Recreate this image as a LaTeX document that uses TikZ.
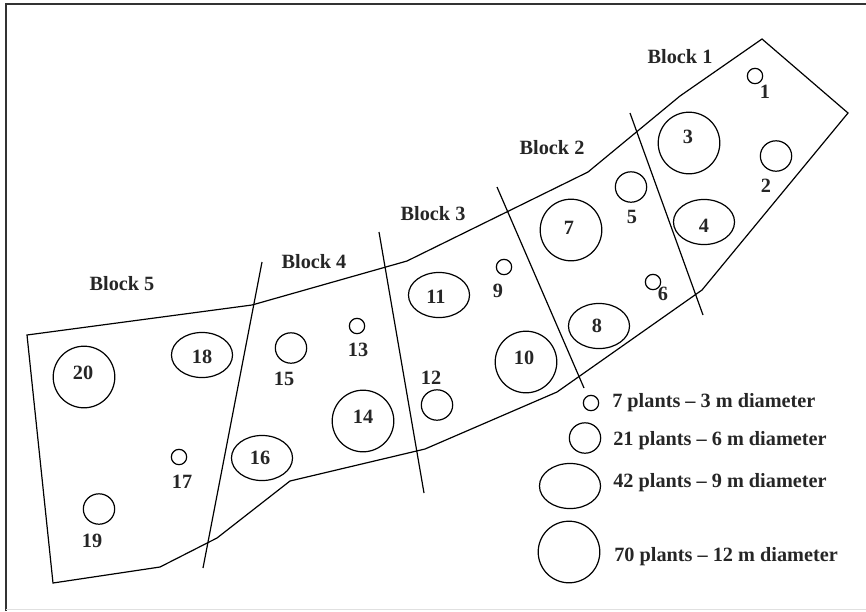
\documentclass[tikz,border=0pt]{standalone}
\usepackage{fontspec}
\setmainfont{Liberation Serif}
\usetikzlibrary{shapes.geometric}
\begin{document}
\begin{tikzpicture}[x=0.75pt, y=-0.75pt,
    every node/.style={font=\fontsize{15.2}{18}\selectfont\bfseries, text=black!85},
    plot/.style={draw, line width=0.9pt, inner sep=0pt, minimum size=0pt},
    smallplot/.style={plot, circle, minimum size=11.5pt},
    medplot/.style={plot, ellipse, minimum width=23.5pt, minimum height=22.8pt},
    ovalplot/.style={plot, ellipse, minimum width=45.8pt, minimum height=33.8pt},
    bigplot/.style={plot, ellipse, minimum width=46.2pt, minimum height=46.2pt},
    numlbl/.style={inner sep=0pt},
    edge/.style={line width=0.9pt, line join=miter}]
    \useasboundingbox (0,0) rectangle (866,611);

    % frame
    \draw[black!80, line width=1.9pt] (6,611) -- (6,4) -- (866,4);
    \draw[black!12, line width=0.6pt] (6,609) -- (866,609);

    % site outline and block dividers
    \draw[edge] (762,39) -- (848,113) -- (702,290) -- (557,392) -- (425,449)
        -- (290,481) -- (217,538) -- (160,567) -- (53,583) -- (27,335)
        -- (252,305) -- (407,261) -- (588,172) -- (680,96) -- cycle;
    \draw[edge] (630,113) -- (703,315);
    \draw[edge] (497,187) -- (584,388);
    \draw[edge] (379,232) -- (424,493);
    \draw[edge] (262,262) -- (203,568);

    % block names
    \node (block1) at (680,57) {Block 1};
    \node (block2) at (552,148) {Block 2};
    \node (block3) at (433,214) {Block 3};
    \node (block4) at (314,262) {Block 4};
    \node (block5) at (122,284) {Block 5};

    % Block 1
    \node[smallplot] (p1) at (755,76) {};
    \node[numlbl] (n1) at (765,92) {1};
    \node[medplot] (p2) at (776,156) {};
    \node[numlbl] (n2) at (766,186) {2};
    \node[bigplot] (p3) at (689,143) {};
    \node[numlbl] (n3) at (688,137) {3};
    \node[ovalplot] (p4) at (704,222) {};
    \node[numlbl] (n4) at (704,226) {4};

    % Block 2
    \node[medplot] (p5) at (631,187) {};
    \node[numlbl] (n5) at (632,217) {5};
    \node[smallplot] (p6) at (653,282) {};
    \node[numlbl] (n6) at (663,294) {6};
    \node[bigplot] (p7) at (571,230) {};
    \node[numlbl] (n7) at (569,228) {7};
    \node[ovalplot] (p8) at (599,326) {};
    \node[numlbl] (n8) at (597,326) {8};

    % Block 3
    \node[smallplot] (p9) at (504,267) {};
    \node[numlbl] (n9) at (498,291) {9};
    \node[bigplot] (p10) at (526,362) {};
    \node[numlbl] (n10) at (524,358) {10};
    \node[ovalplot] (p11) at (439,295) {};
    \node[numlbl] (n11) at (436,297) {11};
    \node[medplot] (p12) at (437,405) {};
    \node[numlbl] (n12) at (431,378) {12};

    % Block 4
    \node[smallplot] (p13) at (357,326) {};
    \node[numlbl] (n13) at (358,350) {13};
    \node[bigplot] (p14) at (363,421) {};
    \node[numlbl] (n14) at (363,417) {14};
    \node[medplot] (p15) at (291,348) {};
    \node[numlbl] (n15) at (284,379) {15};
    \node[ovalplot] (p16) at (262,458) {};
    \node[numlbl] (n16) at (260,458) {16};

    % Block 5
    \node[smallplot] (p17) at (179,457) {};
    \node[numlbl] (n17) at (182,482) {17};
    \node[ovalplot] (p18) at (202,355) {};
    \node[numlbl] (n18) at (202,357) {18};
    \node[medplot] (p19) at (99,509) {};
    \node[numlbl] (n19) at (92,541) {19};
    \node[bigplot] (p20) at (84,377) {};
    \node[numlbl] (n20) at (83,373) {20};

    % legend
    \node[smallplot] (key1) at (591,403) {};
    \node[anchor=west, inner sep=0pt] (keytext1) at (612,403) {7 plants -- 3 m diameter};
    \node[medplot] (key2) at (585,438) {};
    \node[anchor=west, inner sep=0pt] (keytext2) at (613,441) {21 plants -- 6 m diameter};
    \node[ovalplot] (key3) at (570,486) {};
    \node[anchor=west, inner sep=0pt] (keytext3) at (613,483) {42 plants -- 9 m diameter};
    \node[bigplot] (key4) at (569,552) {};
    \node[anchor=west, inner sep=0pt] (keytext4) at (614,557) {70 plants -- 12 m diameter};
\end{tikzpicture}
\end{document}
